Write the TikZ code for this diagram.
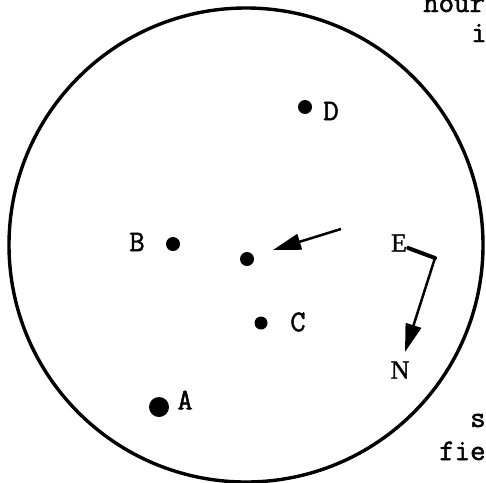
\documentclass[tikz,border=0pt]{standalone}
\usepackage{fontspec}
\newfontfamily\romfont[FakeBold=1.2]{Liberation Serif}
\newfontfamily\typefont[FakeBold=1.6]{Latin Modern Mono}
\usetikzlibrary{arrows.meta}

\tikzset{
  dot/.style={circle, fill=black, inner sep=0pt, minimum size=14pt},
  lbl/.style={font=\fontsize{30}{30}\selectfont\typefont, inner sep=0pt},
  dirlbl/.style={font=\fontsize{26}{26}\selectfont\romfont, inner sep=0pt},
  cut/.style={font=\fontsize{30}{30}\selectfont\typefont, inner sep=0pt, anchor=base west},
  motion/.style={line width=2.5pt, -{Triangle[length=28pt,width=16pt]}},
}

\begin{document}
\begin{tikzpicture}[x=1pt, y=-1pt]
  \useasboundingbox (0,0) rectangle (486,482);

  % Field of view
  \draw[line width=3.4pt] (246,245) circle (237pt);

  % Stars A--D and the moving one
  \node[dot] (d) at (305,107) {};
  \node[lbl] (dl) at (331,111) {D};
  \node[dot] (b) at (173,244) {};
  \node[lbl] (bl) at (137,242) {B};
  \node[dot] (m) at (247,259) {};
  \node[dot, minimum size=13pt] (c) at (261,323) {};
  \node[lbl] (cl) at (298,322) {C};
  \node[dot, minimum size=20pt] (a) at (159,407) {};
  \node[lbl] (al) at (185,400) {A};

  % Motion arrow
  \coordinate (tail) at (341,229);
  \coordinate (tip) at (273,250);
  \draw[motion] (tail) -- (tip);

  % Orientation E / N
  \node[dirlbl] (e) at (399,243) {E};
  \node[dirlbl] (n) at (400,370) {N};
  \coordinate (bend) at (435,258);
  \coordinate (ntip) at (405,352);
  \draw[line width=4pt, line cap=round] ([xshift=1pt,yshift=-5pt]e.east) -- (bend);
  \draw[motion] (bend) -- (ntip);

  % Caption text cut off at the border
  \begin{scope}
    \clip (0,0) rectangle (486,482);
    \node[cut] (t1) at (423,12) {hour};
    \node[cut] (t2) at (471,42) {i};
    \node[cut] (t3) at (470,427) {s};
    \node[cut] (t4) at (439,460) {fie};
  \end{scope}
\end{tikzpicture}
\end{document}
